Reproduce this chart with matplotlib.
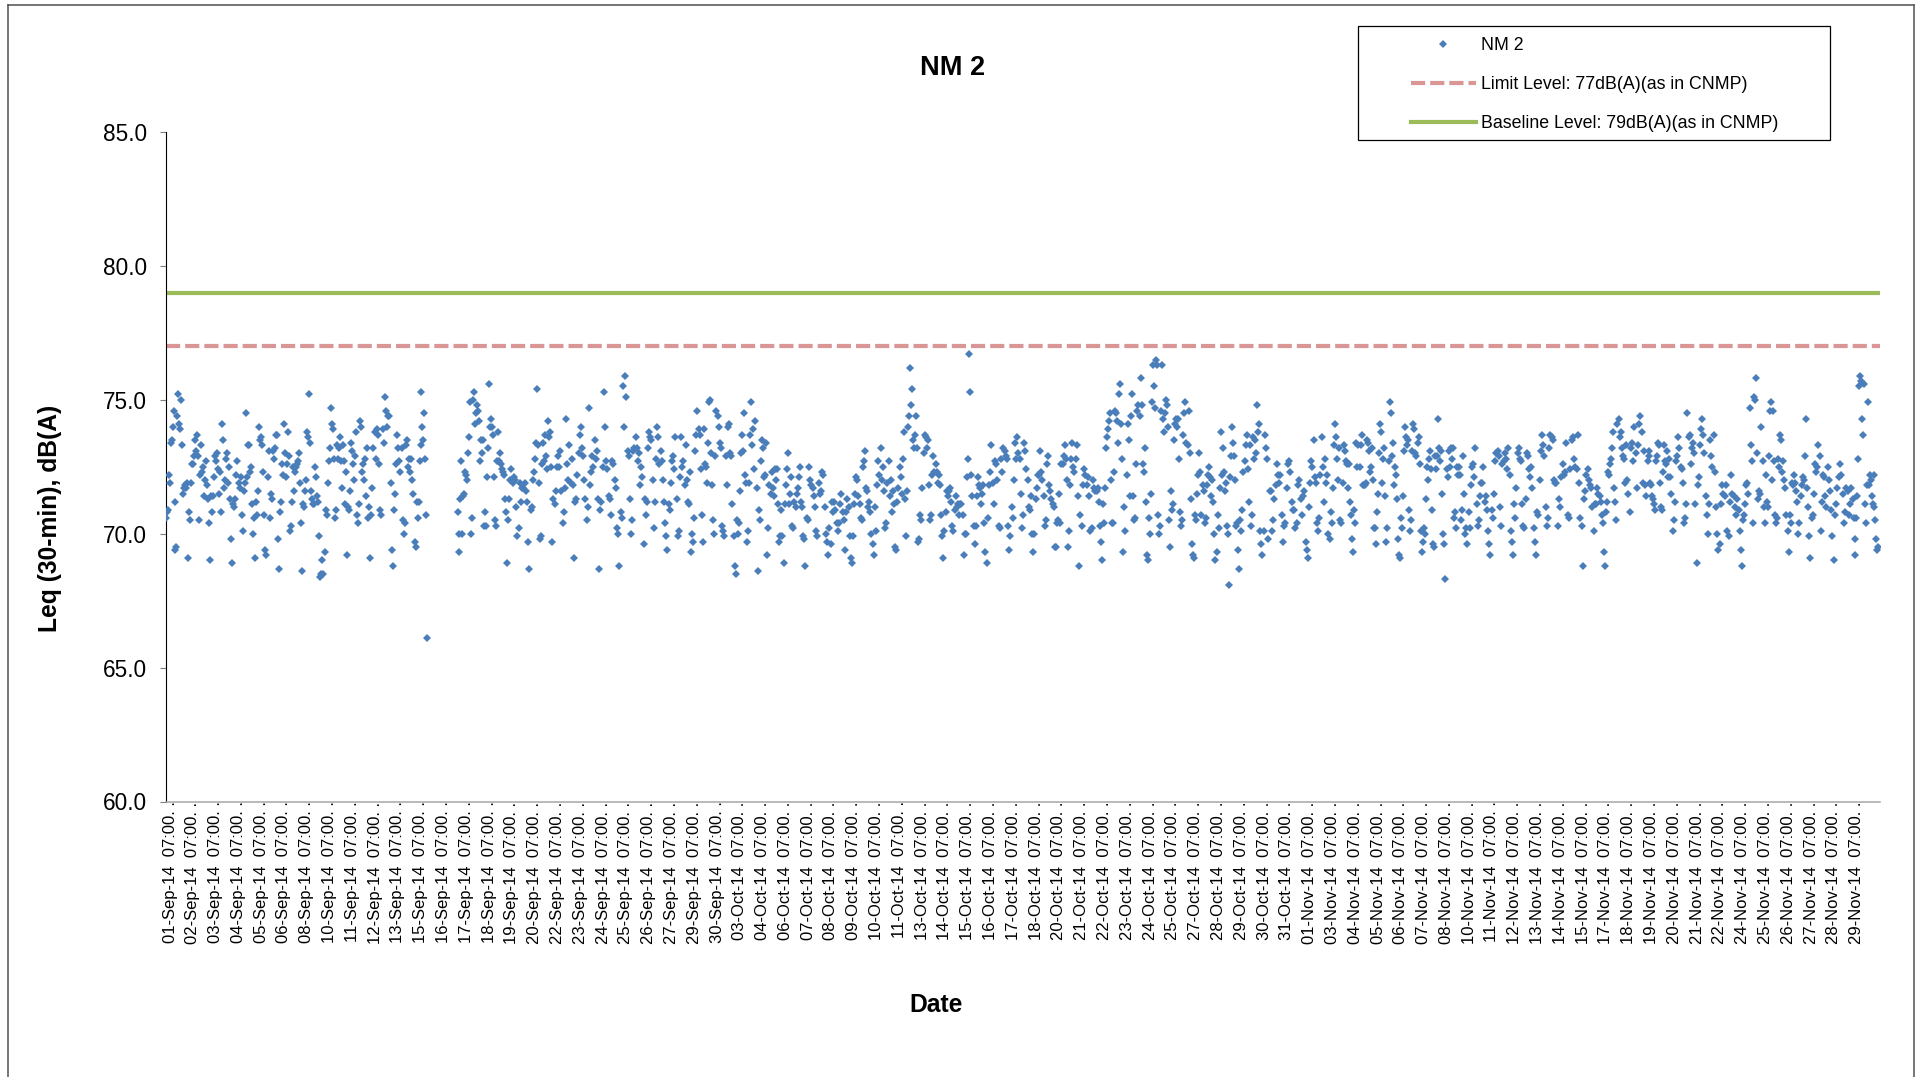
# NM 2 noise monitoring, 30-min Leq
import numpy as np
import matplotlib
matplotlib.use('Agg')
import matplotlib.pyplot as plt
from matplotlib.lines import Line2D
from matplotlib.patches import Rectangle
from matplotlib.transforms import ScaledTranslation

plt.rcParams['font.family'] = ['Liberation Sans', 'DejaVu Sans']

sep_days = ['01', '02', '03', '04', '05', '06', '08', '10', '11', '12', '13', '15', '16', '17', '18', '19', '20', '22', '23', '24', '25', '26', '27', '29', '30']
oct_days = ['03', '04', '06', '07', '08', '09', '10', '11', '13', '14', '15', '16', '17', '18', '20', '21', '22', '23', '24', '25', '27', '28', '29', '30', '31']
nov_days = ['01', '03', '04', '05', '06', '07', '08', '10', '11', '12', '13', '14', '15', '17', '18', '19', '20', '21', '22', '24', '25', '26', '27', '28', '29']
dates = [d + '-Sep-14' for d in sep_days] + [d + '-Oct-14' for d in oct_days] + [d + '-Nov-14' for d in nov_days]

limit_level = 77
baseline_level = 79

# readings for each labelled day, in time order (None = no reading)
leq_sep = [
    [70.6,70.8,70.9,72.2,71.9,73.4,73.5,74.0,74.6,71.2,69.4,69.5,74.4,75.2,74.1,73.9,75.0,73.3,71.5,71.7,71.8,71.7,71.9,69.1],
    [70.8,70.5,71.9,72.6,72.6,72.9,73.5,73.1,73.7,72.9,70.5,72.2,73.3,72.3,72.5,71.4,72.0,72.7,71.8,71.3,70.4,69.0,71.4],
    [70.8,71.4,72.1,72.9,72.7,73.0,72.4,71.5,72.3,70.8,74.1,73.5,71.7,72.0,72.8,73.0,71.9,72.5,71.3,69.8,68.9,71.1],
    [71.0,71.3,72.2,72.7,71.9,71.7,72.1,70.7,70.1,71.6,71.9,74.5,72.1,73.3,73.3,72.3,72.5,71.1,70.0,70.6,69.1,71.2],
    [70.7,71.6,74.0,73.5,73.6,73.3,72.3,70.7,69.4,69.2,72.1,73.1,70.6,71.5,71.3,73.1,72.8,73.2,73.7,73.7,69.8,68.7],
    [70.8,71.2,72.6,72.2,74.1,73.0,72.1,72.6,73.8,72.9,70.1,70.3,71.2,72.5,71.6,72.3,72.5,72.6,72.7,73.0,71.9,70.4,68.6],
    [71.1,71.0,71.6,72.0,73.8,73.6,75.2,73.4,71.6,71.3,71.1,71.1,72.5,72.1,71.4,71.2,69.9,68.4,68.5,69.0,68.5,69.3],
    [70.9,70.7,71.9,72.7,73.2,74.7,74.1,73.9,72.8,70.6,70.9,73.3,72.8,73.2,73.6,72.7,71.7,73.3,72.7,71.1,72.3,69.2],
    [71.0,70.9,71.6,73.4,73.1,72.6,72.0,72.9,73.8,70.7,70.4,71.1,74.2,74.0,72.3,72.6,72.0,72.8,71.4,73.2,70.6,71.0,69.1],
    [70.7,71.7,73.2,73.8,72.8,73.9,73.7,72.6,70.9,70.7,73.9,73.4,75.1,74.6,74.0,74.4,74.4,71.9,69.4,68.8],
    [70.9,71.5,72.6,73.7,73.2,72.7,72.3,73.2,70.5,70.0,70.4,73.3,73.5,72.5,72.8,72.3,72.8,72.0,71.5,69.7,69.5],
    [71.2,70.6,71.2,72.7,75.3,73.3,74.0,73.5,74.5,72.8,70.7,66.1] + [None] * 12,
    [None] * 19 + [70.8,70.0,69.3,71.3,72.7],
    [70.0,71.4,71.5,72.3,72.2,72.0,73.0,73.6,74.9,70.0,70.6,75.0,75.3,74.1,74.5,74.8,74.6,74.2,72.7,73.5,73.0,73.5,70.3],
    [70.8,70.3,72.1,73.2,75.6,74.0,74.3,74.0,73.7,72.1,70.5,70.3,72.7,73.8,72.7,73.0,72.6,72.4,72.3,72.2,71.3,70.8,68.9],
    [70.5,71.3,72.0,72.4,71.9,72.1,72.0,71.0,69.9,70.2,71.9,71.2,71.7,71.7,71.9,71.6,71.2,69.7,68.7],
    [70.9,71.0,72.0,72.3,72.8,73.4,75.4,73.3,71.9,69.8,69.9,72.6,73.4,72.7,73.7,72.9,72.4,74.2,73.6,73.8,72.5,69.7],
    [71.3,71.1,71.6,72.5,72.9,72.5,73.1,71.6,70.4,70.8,71.7,74.3,72.6,72.0,73.3,71.9,72.8,71.8,69.1,71.2],
    [71.3,72.2,73.0,73.7,74.0,73.2,72.9,72.0,71.3,70.5,71.0,74.7,71.8,72.3,72.9,72.5,73.5,72.8,73.1,71.3],
    [68.7,70.9,71.2,72.5,75.3,74.0,72.7,72.4,71.4,71.3,70.7,72.7,72.6,72.0,71.7,70.2,70.0,68.8,70.8],
    [70.6,75.5,74.0,75.9,75.1,73.1,72.9,71.3,70.0,70.5,73.1,73.2,73.6,73.2,72.7,73.0,71.8,72.5,72.1,69.6],
    [71.3,70.7,71.2,73.2,73.8,73.6,73.5,72.0,70.2,71.2,72.8,74.0,73.6,72.6,73.1,72.7,72.0,71.2,70.4,69.9],
    [69.4,71.1,70.9,71.9,72.7,72.9,72.4,73.6,71.3,69.9,70.1,72.1,73.6,72.5,72.7,71.8,73.3,72.0,71.2,71.1],
    [72.3,69.3,70.0,69.7,70.6,73.1,73.7,74.6,73.9,73.7,72.4,70.7,69.7,73.9,72.6,72.5,71.9,73.4,74.9,75.0,73.0,71.8],
    [70.5,70.0,72.9,74.6,74.4,74.0,73.4,73.2,70.3,70.1,69.9,72.9,71.8,74.0,74.1,73.0,72.9,71.1,69.9,68.8],
]
leq_oct = [
    [68.5,70.5,70.0,70.4,71.6,73.0,73.7,73.1,74.5,72.2,71.9,69.7,70.1,71.9,73.7,74.9,73.3,73.9,72.4,74.2,71.7,68.6],
    [70.9,70.5,72.7,73.5,73.2,72.1,72.2,73.4,69.2,70.2,71.8,71.5,72.3,71.7,71.4,72.4,72.0,72.4,71.1,69.7,69.9],
    [70.9,69.9,68.9,71.1,71.8,72.4,73.0,71.1,71.5,72.1,70.3,70.2,71.2,71.0,71.5,71.7,72.1,72.5,71.2,71.0,69.9],
    [69.8,68.8,70.6,70.5,72.5,72.0,71.8,71.7,71.4,71.0,70.1,69.9,71.9,71.5,71.6,72.3,72.2,71.0,70.0],
    [69.7,69.2,70.2,69.6,71.2,70.8,71.2,70.9,70.4,70.1,70.4,71.1,71.5,70.8,70.5,69.4,70.8,71.3,71.0],
    [69.9,69.1,68.9,69.9,71.1,71.5,72.1,72.0,71.4,71.1,70.6,70.5,72.5,72.7,73.1,71.7,71.6,71.0,71.2,70.8,70.0],
    [69.6,69.2,71.0,70.1,71.8,72.7,72.2,73.2,72.0,72.5,71.6,70.2,70.4,71.9,72.7,71.4,72.0,70.8,71.6,71.1],
    [69.5,69.4,71.2,71.7,72.5,72.1,71.5,72.8,73.8,71.3,69.9,71.6,74.0,74.4,76.2,74.8,75.4,73.5,73.2,73.7,74.4,73.2],
    [69.7,69.8,70.7,70.5,71.7,73.0,73.7,73.6,73.2,73.5,71.8,70.5,70.7,72.2,72.9,72.3,72.6,72.3,71.9,72.2,71.8],
    [70.7,69.9,69.1,70.1,70.8,71.6,71.4,71.6,71.7,71.2,70.3,70.1,70.9,71.4,71.0,71.1,70.7,71.1,71.1,70.7],
    [69.2,70.0,70.0,72.1,72.8,76.7,75.3,72.2,71.4,70.3,69.6,70.3,71.4,72.1,71.8,71.7,71.1,71.5,71.8,70.4,69.3],
    [68.9,70.6,71.8,72.3,73.3,71.9,71.1,72.7,72.6,72.0,70.3,70.2,72.8,72.3,73.2,73.1,72.9,72.8,70.3],
    [69.4,69.9,71.0,70.6,72.0,73.4,72.8,73.6,73.0,72.8,71.5,70.2,70.7,73.4,73.1,72.4,72.0,71.0,70.9,71.4],
    [70.0,69.3,70.0,71.3,71.7,72.2,72.2,73.1,72.3,72.0,71.4,70.3,70.5,72.6,72.9,71.8,71.6,71.3,71.1,71.0],
    [69.5,69.5,70.4,70.5,71.5,70.4,72.6,72.6,72.9,73.3,72.8,72.0,69.5,70.1,71.8,72.8,73.4,72.5,72.3,72.8,73.3],
    [71.4,68.8,70.7,70.3,71.8,72.4,72.2,71.8,72.1,71.4,70.1,70.2,72.0,71.7,71.6,71.6,71.7,71.2],
    [70.3,69.7,69.0,71.1,70.4,71.7,73.2,73.6,73.9,74.2,74.5,72.0,70.4,70.4,72.3,74.6,74.5,74.2,73.4,75.2,75.6,74.1,72.8],
    [69.3,71.0,70.1,72.2,74.1,73.5,71.4,74.4,75.2,71.4,70.5,70.6,72.6,74.6,74.8,74.4,75.8,74.8,72.6,72.3,73.2],
    [71.2,69.2,69.0,70.6,70.0,71.5,74.9,76.3,75.5,74.7,76.5,76.3,70.7,70.0,70.3,74.6,76.3,74.3,73.8,74.5,75.0,74.8,74.0],
    [70.5,69.5,71.6,70.9,71.1,73.5,74.1,74.3,74.0,74.3,72.8,70.8,70.3,70.5,73.7,74.5,74.9,73.4,73.3,74.6,73.0,71.3],
    [69.6,69.2,69.1,70.7,70.5,71.5,72.2,73.0,72.3,70.7,71.8,71.6,70.4,70.6,71.8,72.2,72.5,72.1,71.4,72.0,71.2],
    [70.0,69.0,69.3,70.7,70.2,71.7,73.8,72.2,73.2,72.3,71.6,71.9,70.3,70.0,68.1,72.1,72.9,74.0,73.4,72.9,72.0,70.3],
    [70.4,69.4,68.7,70.5,70.1,70.9,72.3,72.7,73.3,73.7,72.4,71.2,73.3,70.3,70.7,73.6,72.8,73.5,73.0,74.8,73.8,74.1],
    [70.1,69.6,69.2,70.1,73.7,73.2,72.8,69.8,71.6,71.6,70.1,70.5,71.3,71.8,72.6,72.2,71.9,72.2,70.7],
    [69.7,70.3,70.4,71.7,72.6,72.7,72.3,71.2,70.9,70.9,70.2,70.4,71.8,72.0,71.3,70.7,71.4,71.6],
]
leq_nov = [
    [69.7,69.4,69.1,71.0,71.9,72.7,72.5,73.5,72.1,71.9,70.4,70.1,70.6,72.2,73.6,72.5,71.2,72.8,71.9,72.2],
    [70.0,69.8,70.8,70.4,71.7,73.3,74.1,73.6,72.8,72.0,73.2,70.5,70.4,71.9,73.3,73.1,72.7,72.6,71.7,72.6,71.2],
    [70.7,69.8,69.3,70.9,70.4,73.4,72.5,73.3,72.5,73.3,73.7,71.8,71.8,71.8,71.9,73.5,73.4,73.1,72.3,72.5,73.2,72.0],
    [70.2,70.2,69.6,70.8,71.5,73.0,74.1,73.8,71.9,72.8,73.2,71.4,69.7,70.2,72.7,74.9,74.5,72.9,73.4,71.8,72.5,72.2],
    [71.3,69.8,69.2,69.1,70.6,70.2,71.4,73.1,74.0,73.6,73.3,73.5,70.9,70.1,70.5,73.1,74.1,73.9,73.0,72.9,73.4,73.6],
    [72.6,70.1,69.3,69.7,70.2,70.0,71.3,72.5,72.0,72.8,73.1,72.4,70.9,69.6,69.5,72.9,72.4,72.9,74.3,73.2,72.7,73.1],
    [71.5,70.0,69.6,68.3,72.4,72.1,73.1,72.5,73.2,72.8,73.2,70.6,70.8,70.2,72.5,72.2,72.5,72.2,70.5,70.9,72.9,71.5],
    [70.0,70.2,69.6,70.8,70.2,71.8,72.5,72.6,72.1,73.2,71.1,70.3,70.5,71.4,71.9,71.9,72.5,71.2,71.4,70.9],
    [70.1,69.6,69.2,70.9,70.6,71.5,72.7,73.0,73.1,72.9,71.0,70.3,72.6,72.7,73.0,72.8,72.4,73.2,72.2],
    [70.1,69.7,69.2,71.1,70.6,71.7,73.0,73.2,72.8,72.7,71.1,70.3,70.2,71.3,73.0,72.9,72.4,72.1,72.5,71.7],
    [70.2,69.7,69.2,70.8,70.7,72.0,73.1,73.7,73.3,72.9,71.0,70.3,70.6,73.2,73.7,73.6,73.5,72.0,71.9],
    [71.9,70.3,71.3,71.0,72.1,72.6,72.2,72.3,73.4,70.7,70.6,72.4,73.5,73.6,72.8,72.5,72.4,73.7],
    [71.9,70.6,70.3,68.8,71.3,71.6,72.2,72.4,72.0,71.8,71.7,71.0,70.1,71.1,71.1,71.7,71.5,71.4,71.2],
    [70.7,70.4,69.3,68.8,70.8,71.2,72.3,72.2,72.6,72.8,73.2,73.8,71.7,71.2,70.5,74.1,74.3,73.6,73.8,73.2,72.9,72.8],
    [71.9,73.3,72.0,71.5,70.8,73.2,73.4,72.7,74.0,73.0,71.7,73.3,74.1,74.4,73.8,71.9,73.1,71.8,71.4],
    [72.7,73.1,72.9,71.9,71.8,71.4,71.3,71.1,70.9,72.7,72.9,73.4,73.3,71.9,71.0,70.9,72.3,73.3,72.7,72.6,73.1,72.1,72.8],
    [72.1,71.5,70.1,70.5,71.2,72.7,72.9,73.6,73.2,72.5,72.4,71.9,70.4,70.6,71.1,74.5,73.6,73.7,72.6,73.2],
    [73.4,73.0,71.1,68.9,71.8,72.1,73.3,73.9,74.3,73.7,73.0,71.4,70.7,70.0,71.1,73.5,72.9,72.5,73.7,72.3],
    [71.0,70.0,69.4,69.6,71.1,71.8,71.5,71.4,71.8,70.1,69.9,71.2,72.2,71.5,71.4,71.0,70.7,71.3],
    [70.9,70.1,69.4,68.8,70.5,70.7,71.1,71.8,71.9,71.5,74.7,73.3,72.7,70.4,75.1,75.0,75.8,73.0,71.3,71.6,71.5],
    [74.0,72.7,71.0,70.4,72.2,71.2,71.0,72.9,74.6,74.9,72.0,74.6,72.7,70.7,70.4,70.6,72.8,72.5,73.7,73.5,72.3,72.7],
    [72.0,71.7,70.7,70.1,69.3,70.7,70.4,71.9,71.8,72.2,71.9,71.6,71.2,70.0,70.4,71.4,71.8,72.1,72.0,72.9,74.3],
    [71.7,71.0,69.9,69.1,70.6,70.7,71.5,72.6,72.3,72.5,73.3,72.9,70.1,71.2,72.2,72.1,71.4,71.0,72.5,72.0],
    [71.6,70.9,69.9,69.0,70.7,71.1,71.7,72.1,72.6,72.2,71.5,70.4,70.8,71.7,71.6,70.7,71.1,71.7],
    [71.3,70.6,69.8,69.2,70.6,71.4,72.8,75.5,75.9,75.7,74.3,73.7,75.6,71.1,70.4,71.8,74.9,71.8,72.2,72.0,71.4,71.1,71.0,72.2],
]
leq_last = [70.5, 69.8, 69.4, 69.5] + [None] * 20

leq_by_day = leq_sep + leq_oct + leq_nov + [leq_last]

# each day's readings sit evenly between that day's label and the next
sample_x = []
sample_y = []
for day, readings in enumerate(leq_by_day):
    for j, value in enumerate(readings):
        if value is not None:
            sample_x.append(day + j / len(readings))
            sample_y.append(value)

W, H = 1924, 1077
fig = plt.figure(figsize=(W / 100, H / 100), dpi=100)
ax = fig.add_axes([166 / W, 1 - 801.5 / H, (1880 - 166) / W, (801.5 - 132) / H])

x_end = 75.2
ax.plot(sample_x, sample_y, linestyle='none', marker='D', markersize=3.8, markeredgewidth=0, color='#4A7EBB', label='NM 2', zorder=3)
ax.plot([0, x_end], [limit_level] * 2, color='#D99694', linewidth=3, linestyle=(0, (3.4, 1.2)), label='Limit Level: 77dB(A)(as in CNMP)', zorder=2)
ax.plot([0, x_end], [baseline_level] * 2, color='#9BBB59', linewidth=3, label='Baseline Level: 79dB(A)(as in CNMP)', zorder=2)

ax.set_xlim(0, x_end)
ax.set_ylim(60, 85)
ax.set_yticks([60, 65, 70, 75, 80, 85])
ax.set_yticklabels(['%.1f' % v for v in [60, 65, 70, 75, 80, 85]])
ax.tick_params(axis='y', labelsize=16.3, length=4.3, width=0.8, color='#7F7F7F', pad=9.5)

ax.set_xticks(np.arange(len(dates)))
ax.set_xticklabels([d + '  07:00. .' for d in dates], rotation=90, fontsize=12.0)
ax.tick_params(axis='x', length=0, pad=0)
# labels sit slightly right of their day
shift = ScaledTranslation(4 / 100, 0, fig.dpi_scale_trans)
for label in ax.get_xticklabels():
    label.set_transform(label.get_transform() + shift)

for side in ['top', 'right']:
    ax.spines[side].set_visible(False)
ax.spines['left'].set_linewidth(0.8)
ax.spines['left'].set_color('black')
ax.spines['bottom'].set_linewidth(1.1)
ax.spines['bottom'].set_color('#A6A6A6')

fig.text(952.5 / W, 1 - 68 / H, 'NM 2', fontsize=19.5, fontweight='bold', ha='center', va='center')
fig.text(50 / W, 1 - 518 / H, 'Leq (30-min), dB(A)', fontsize=17.7, fontweight='bold', rotation=90, ha='center', va='center')
fig.text(936.5 / W, 1 - 1005 / H, 'Date', fontsize=17.7, fontweight='bold', ha='center', va='center')

# legend box and the outer chart border
ax.add_patch(Rectangle((1358 / W, 1 - 140 / H), 472 / W, 114 / H, transform=fig.transFigure, clip_on=False, facecolor='white', edgecolor='black', linewidth=0.9, zorder=5))
leg = ax.legend(loc='upper left', bbox_to_anchor=(1411 / W, 1 - 37.5 / H), bbox_transform=fig.transFigure, frameon=False,
                fontsize=12.75, handlelength=3.65, handletextpad=0.3, labelspacing=1.24, borderpad=0, borderaxespad=0, numpoints=1)
leg.set_zorder(6)

frame = '#505050'
fig.add_artist(Line2D([8 / W, 8 / W], [0, 1 - 5 / H], color=frame, linewidth=1.1))
fig.add_artist(Line2D([8 / W, 1914 / W], [1 - 5 / H, 1 - 5 / H], color=frame, linewidth=1.1))
fig.add_artist(Line2D([1914 / W, 1914 / W], [0, 1 - 5 / H], color=frame, linewidth=1.1))

plt.savefig('out.png', dpi=100)
